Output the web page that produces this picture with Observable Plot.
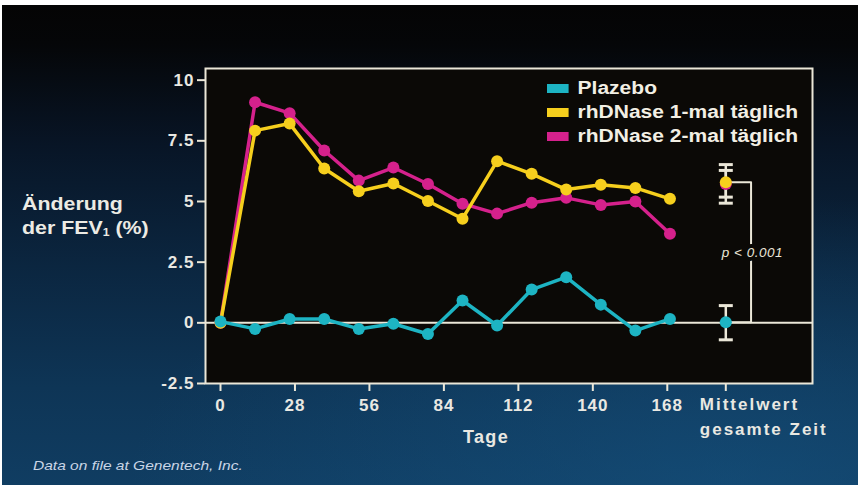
<!DOCTYPE html>
<html><head><meta charset="utf-8">
<script src="https://cdn.jsdelivr.net/npm/d3@7"></script>
<script src="https://cdn.jsdelivr.net/npm/@observablehq/plot@0.6"></script>
<style>
html,body{margin:0;padding:0;width:858px;height:485px;overflow:hidden;background:#fff;}
#wrap{position:absolute;left:0;top:0;width:858px;height:485px;
 background:
  radial-gradient(ellipse 70% 60% at 85% 100%, rgba(22,84,130,0.55), rgba(22,84,130,0) 100%),
  linear-gradient(to bottom, #040404 0%, #050608 9%, #081526 30%, #0b2640 55%, #0e3556 80%, #103d62 100%);
 font-family:"Liberation Sans",Arial,Helvetica,sans-serif;}
#topband{position:absolute;left:0;top:0;width:858px;height:5px;background:#fff;}
#leftband{position:absolute;left:0;top:0;width:2px;height:485px;background:#fff;}
#chart{position:absolute;left:0;top:0;}
#ylabel{position:absolute;left:22px;top:192px;color:#ecebe4;font-weight:bold;font-size:17.5px;line-height:24px;transform:scaleX(1.22);transform-origin:0 0;white-space:nowrap;}
#ylabel sub{font-size:10px;vertical-align:-2px;}
#legend{position:absolute;left:547px;top:76px;color:#f2efe4;font-weight:bold;font-size:17.5px;transform:scaleX(1.2);transform-origin:0 0;white-space:nowrap;}
#legend .row{height:24px;display:flex;align-items:center;}
#legend .sw{width:17.5px;height:9px;margin-right:8px;}
#caption{position:absolute;left:33px;top:458px;color:#c9d5e6;font-style:italic;font-size:13.5px;transform:scaleX(1.15);transform-origin:0 0;white-space:nowrap;}
</style></head>
<body><div id="wrap"><div id="chart"></div>
<div id="ylabel">Änderung<br>der FEV<sub>1</sub> (%)</div>
<div id="legend"></div>
<div id="caption">Data on file at Genentech, Inc.</div>
<div id="topband"></div><div id="leftband"></div>
</div>
<script>
// ---- data ----
const days = [0, 13, 26, 39, 52, 65, 78, 91, 104, 117, 130, 143, 156, 169];
const placebo = [0.05, -0.25, 0.16, 0.16, -0.25, -0.04, -0.46, 0.92, -0.11, 1.37, 1.88, 0.75, -0.32, 0.16];
const onceDaily = [0, 7.92, 8.21, 6.36, 5.42, 5.74, 5.02, 4.29, 6.66, 6.14, 5.49, 5.69, 5.56, 5.11];
const twiceDaily = [0, 9.09, 8.64, 7.10, 5.86, 6.40, 5.72, 4.91, 4.50, 4.95, 5.15, 4.86, 5.00, 3.67];
const seriesNames = ["Plazebo", "rhDNase 1-mal täglich", "rhDNase 2-mal täglich"];
const seriesColors = ["#1db4c3", "#f6cf1d", "#d5218c"];
const meanSlot = 190; // category slot "Mittelwert gesamte Zeit" on the day axis
const meanLabel = "Mittelwert\ngesamte Zeit";
const meanValues = [0.02, 5.79, 5.72];
const meanLow = [-0.70, 5.18, 4.93];
const meanHigh = [0.71, 6.28, 6.52];
const xTicks = [0, 28, 56, 84, 112, 140, 168];
const yTicks = [-2.5, 0, 2.5, 5, 7.5, 10];
const xTitle = "Tage";
const pLabel = "p < 0.001";

// ---- build ----
const cream = "#ebe7d8";
const plotBg = "#0b0906";
const seriesValues = [placebo, onceDaily, twiceDaily];
const rows = seriesNames.map((s, i) => days.map((d, j) => ({series: s, day: d, value: seriesValues[i][j]})));
const means = seriesNames.map((s, i) => ({series: s, x: meanSlot, value: meanValues[i], lo: meanLow[i], hi: meanHigh[i]}));
const bracketReach = 9.5;
const bracket = [
  {x: meanSlot, y: meanValues[1]}, {x: meanSlot + bracketReach, y: meanValues[1]},
  {x: meanSlot + bracketReach, y: meanValues[0]}, {x: meanSlot, y: meanValues[0]}
];
const capSymbol = {draw(ctx, size) { const r = Math.sqrt(size / Math.PI); ctx.moveTo(-r, 0); ctx.lineTo(r, 0); }};

document.getElementById("legend").innerHTML = seriesNames.map((s, i) =>
  `<div class="row"><div class="sw" style="background:${seriesColors[i]}"></div>${s}</div>`).join("");

const order = [2, 1, 0];
const marks = [
  Plot.frame({fill: plotBg}),
  Plot.ruleY([0], {stroke: cream, strokeWidth: 2}),
  Plot.frame({stroke: cream, strokeWidth: 2}),
  Plot.axisY({ticks: yTicks, tickSize: 8, tickPadding: 3, tickFormat: d => String(d), stroke: cream, strokeWidth: 2,
    fill: "#e9e8e2", fontSize: 17, fontWeight: "bold", label: null}),
  Plot.axisX({ticks: [...xTicks, meanSlot], tickSize: 8, tickPadding: 7, tickFormat: d => xTicks.includes(d) ? String(d) : "",
    stroke: cream, strokeWidth: 2, fill: "#e9e8e2", fontSize: 17, fontWeight: "bold", label: null}),
  Plot.text([meanLabel], {x: meanSlot, frameAnchor: "bottom", textAnchor: "start", lineAnchor: "top", dx: -26, dy: 9,
    lineHeight: 1.45, fill: "#e9e8e2", fontSize: 17, fontWeight: "bold"}),
  Plot.text([xTitle], {frameAnchor: "bottom", dx: -23, dy: 59, fill: "#e9e8e2", fontSize: 18, fontWeight: "bold"}),
  ...order.flatMap(i => [
    Plot.line(rows[i], {x: "day", y: "value", stroke: seriesColors[i], strokeWidth: 3.5}),
    Plot.dot(rows[i], {x: "day", y: "value", fill: seriesColors[i], r: 6})
  ]),
  Plot.line(bracket, {x: "x", y: "y", stroke: cream, strokeWidth: 2}),
  Plot.text([pLabel], {x: meanSlot + bracketReach + 0.5, y: (meanValues[0] + meanValues[1]) / 2, text: d => d,
    fill: cream, stroke: plotBg, strokeWidth: 8, fontStyle: "italic", fontSize: 13.5}),
  Plot.ruleX(means, {x: "x", y1: "lo", y2: "hi", stroke: cream, strokeWidth: 2.5}),
  Plot.dot(means, {x: "x", y: "lo", symbol: capSymbol, r: 7, stroke: cream, strokeWidth: 3, fill: "none"}),
  Plot.dot(means, {x: "x", y: "hi", symbol: capSymbol, r: 7, stroke: cream, strokeWidth: 3, fill: "none"}),
  ...order.map(i => Plot.dot([means[i]], {x: "x", y: "value", fill: seriesColors[i], r: 6}))
];

const chart = Plot.plot({
  width: 858, height: 485,
  marginLeft: 205, marginRight: 46, marginTop: 68, marginBottom: 102,
  x: {domain: [-5.64, 222.6]},
  y: {domain: [-2.5, 10.48]},
  style: {background: "transparent", fontFamily: "'Liberation Sans', Arial, Helvetica, sans-serif", color: cream},
  marks
});
document.getElementById("chart").appendChild(chart);
const svg = d3.select(chart);
svg.selectAll('g[aria-label="x-axis tick label"] text').style("letter-spacing", "1px");
svg.selectAll('g[aria-label="y-axis tick label"] text').style("letter-spacing", "1px");
svg.selectAll('g[aria-label="text"] text').each(function() {
  const t = d3.select(this);
  const s = t.text();
  if (s.includes("Mittelwert") || s.includes("gesamte")) t.style("letter-spacing", "2px");
  else if (s === xTitle) t.style("letter-spacing", "1.3px");
  else if (s === pLabel) t.style("letter-spacing", "0.5px");
});
</script>
</body></html>
